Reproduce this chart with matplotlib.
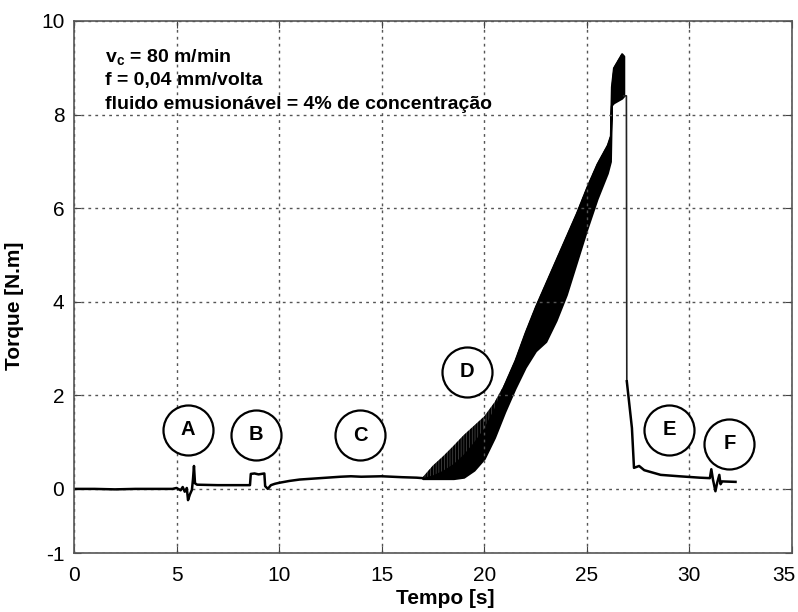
import matplotlib
matplotlib.use('Agg')
import matplotlib.pyplot as plt
from matplotlib.transforms import ScaledTranslation

plt.rcParams['font.family'] = ['Liberation Sans', 'DejaVu Sans']
plt.rcParams['mathtext.fontset'] = 'custom'
plt.rcParams['mathtext.rm'] = 'Liberation Sans:bold'
plt.rcParams['mathtext.it'] = 'Liberation Sans:bold'
plt.rcParams['mathtext.bf'] = 'Liberation Sans:bold'
plt.rcParams['hatch.linewidth'] = 1.6

# ---- data ----
# torque trace before the oscillating band (regions A, B, C)
t_pre = [0.0, 1.0, 2.0, 3.0, 4.0, 4.8, 5.0, 5.2, 5.3, 5.4, 5.5, 5.56, 5.65, 5.75, 5.8, 5.85, 5.9, 6.0,
         7.0, 8.0, 8.58, 8.62, 8.8, 9.0, 9.28, 9.32, 9.45, 9.6, 9.8, 10.0, 10.5, 11.0, 12.0, 13.0,
         13.5, 14.0, 15.0, 16.0, 16.7, 17.0]
y_pre = [0.0, 0.0, -0.01, 0.0, 0.0, 0.0, 0.02, -0.03, 0.04, -0.06, 0.02, -0.24, -0.12, -0.02, 0.2, 0.49, 0.12, 0.09,
         0.08, 0.08, 0.08, 0.32, 0.33, 0.31, 0.33, 0.06, 0.0, 0.08, 0.11, 0.13, 0.17, 0.2, 0.23, 0.26,
         0.27, 0.26, 0.27, 0.25, 0.24, 0.23]

# oscillating band (region D) : time, lower envelope, dense-core top, upper envelope
t_band = [17.0, 17.5, 18.0, 18.5, 19.0, 19.5, 20.0, 20.5, 21.0, 21.5, 22.0, 22.5, 23.0, 23.5,
          24.0, 24.5, 25.0, 25.5, 26.0, 26.15, 26.2, 26.3, 26.5, 26.7, 26.8]
lo_band = [0.22, 0.22, 0.22, 0.22, 0.25, 0.4, 0.65, 1.1, 1.65, 2.15, 2.6, 2.95, 3.15, 3.6,
           4.15, 4.85, 5.55, 6.2, 6.75, 7.0, 8.2, 8.25, 8.3, 8.35, 8.4]
core_band = [0.22, 0.28, 0.38, 0.52, 0.72, 0.98, 1.28, 1.7, 2.25, 2.75, 3.35, 3.9, 4.4, 4.9,
             5.4, 5.9, 6.45, 6.95, 7.35, 7.55, 8.6, 9.0, 9.15, 9.3, 9.25]
hi_band = [0.25, 0.5, 0.7, 0.92, 1.15, 1.35, 1.55, 1.85, 2.25, 2.75, 3.35, 3.9, 4.4, 4.9,
           5.4, 5.9, 6.45, 6.95, 7.35, 7.55, 8.6, 9.0, 9.15, 9.3, 9.25]

# trace after the peak (regions E, F)
t_post = [26.8, 26.93, 26.95, 27.2, 27.3, 27.55, 27.8, 28.6, 29.5, 30.5, 31.0, 31.07, 31.15,
          31.27, 31.35, 31.46, 31.52, 31.6, 32.25]
y_post = [8.4, 8.4, 2.3, 1.3, 0.45, 0.49, 0.4, 0.3, 0.27, 0.24, 0.23, 0.42, 0.2,
          -0.05, 0.12, 0.3, 0.1, 0.16, 0.15]

# circled labels
lab_text = ['A', 'B', 'C', 'D', 'E', 'F']
lab_x = [5.56, 8.88, 13.95, 19.17, 29.02, 31.95]
lab_y = [1.26, 1.16, 1.15, 2.5, 1.26, 0.97]

x_ticks = [0, 5, 10, 15, 20, 25, 30, 35]
y_ticks = [-1.37, 0, 2, 4, 6, 8, 10]
y_tick_labels = ['-1', '0', '2', '4', '6', '8', '10']

info_lines = [r'$\mathrm{v_c}$ = 80 m/min', 'f = 0,04 mm/volta',
              'fluido emusionável = 4% de concentração']

# ---- figure ----
fig = plt.figure(figsize=(7.98, 6.12), dpi=100)
ax = fig.add_axes([0.0927, 0.0964, 0.8997, 0.8693])

ax.plot(t_pre, y_pre, color='black', lw=1.8, solid_joinstyle='round')
# striped outer part of the oscillation band
ax.fill_between(t_band, lo_band, hi_band, facecolor='#606060', hatch='||||||',
                edgecolor='black', lw=0)
# dense core of the band
ax.fill_between(t_band, lo_band, core_band, facecolor='black', lw=1.5, edgecolor='black')
ax.plot(t_post[:3], y_post[:3], color='#222222', lw=1.2)
ax.plot(t_post[2:], y_post[2:], color='black', lw=1.8, solid_joinstyle='round')

for s, x, y in zip(lab_text, lab_x, lab_y):
    ax.plot([x], [y], marker='o', markersize=36, markerfacecolor='white',
            markeredgecolor='black', markeredgewidth=1.6, zorder=5)
    ax.text(x, y, s, ha='center', va='center', fontsize=14.5, fontweight='bold', zorder=6)

for i, line in enumerate(info_lines):
    ax.text(1.5, 9.22 - i * 0.5, line, fontsize=14, fontweight='bold', va='center', ha='left')

ax.set_xlim(0, 35)
ax.set_ylim(-1.37, 10)
ax.set_xticks(x_ticks)
ax.set_yticks(y_ticks)
ax.set_yticklabels(y_tick_labels)
ax.tick_params(direction='in', length=5, labelsize=15, color='#444', top=True, right=True)
ax.tick_params(axis='x', pad=9)
ax.tick_params(axis='y', pad=7)
ax.grid(True, linestyle=(0, (2, 3)), color='#555555', lw=1.0)
for sp in ax.spines.values():
    sp.set_color('#555555')
    sp.set_linewidth(1.2)

# keep the last x tick label inside the figure
last = ax.get_xticklabels()[-1]
last.set_transform(last.get_transform() + ScaledTranslation(-6 / 72, 0, fig.dpi_scale_trans))

ax.set_xlabel('Tempo [s]', fontsize=15, fontweight='bold')
ax.set_ylabel('Torque [N.m]', fontsize=15, fontweight='bold')
ax.xaxis.set_label_coords(0.517, -0.068)
ax.yaxis.set_label_coords(-0.07, 0.464)

fig.savefig('out.png', dpi=100)
